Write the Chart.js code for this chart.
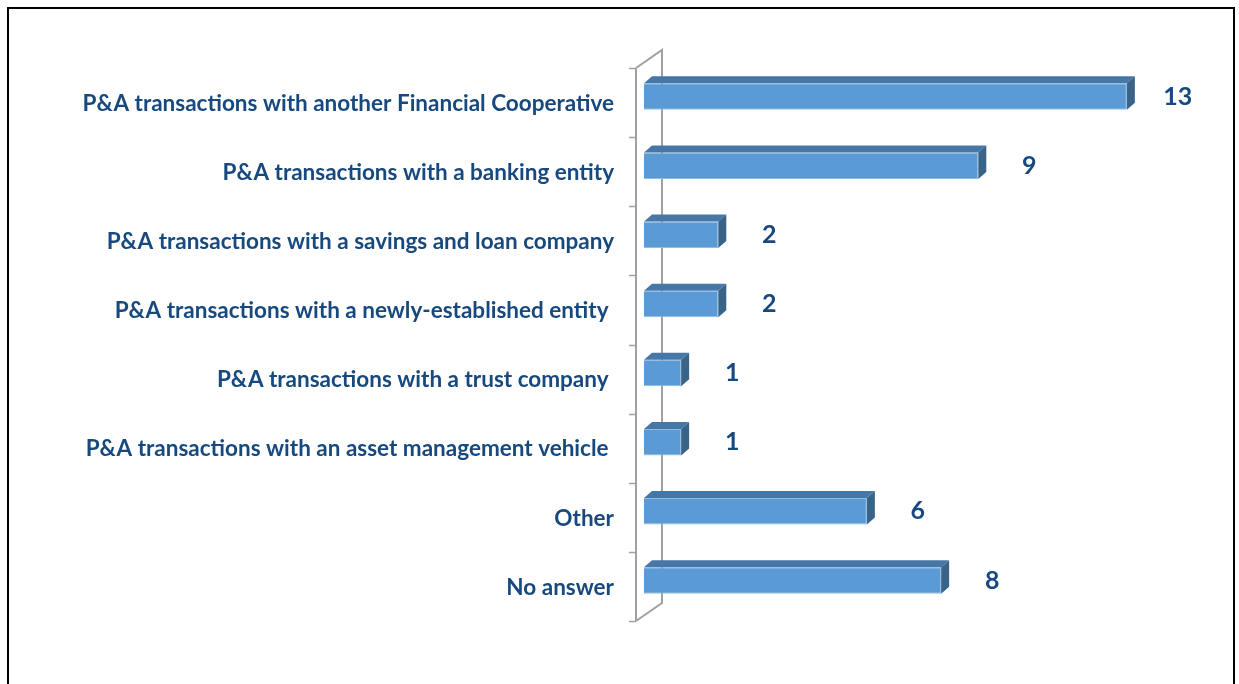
<!DOCTYPE html>
<html>
<head>
<meta charset="utf-8">
<script src="https://cdn.jsdelivr.net/npm/chart.js@4.4.1/dist/chart.umd.min.js"></script>
<style>
  html, body { margin: 0; padding: 0; background: #fff; overflow: hidden; }
  #wrap { position: absolute; left: 0; top: 0; width: 1239px; height: 684px; }
  #frame { position: absolute; left: 7px; top: 7px; width: 1224px; height: 700px; border: 2px solid #000; }
</style>
</head>
<body>
<div id="frame"></div>
<div id="wrap"><canvas id="myChart"></canvas></div>
<script>
const categories = [
  'P&A transactions with another Financial Cooperative',
  'P&A transactions with a banking entity',
  'P&A transactions with a savings and loan company',
  'P&A transactions with a newly-established entity ',
  'P&A transactions with a trust company ',
  'P&A transactions with an asset management vehicle ',
  'Other',
  'No answer',
];
const counts = [13, 9, 2, 2, 1, 1, 6, 8];

const textBlue = '#17497F';
const depthX = 8, depthY = 7;

// back wall + ticks, drawn behind the bars
const wall3d = {
  id: 'wall3d',
  beforeDatasetsDraw(chart) {
    const { ctx, chartArea } = chart;
    const n = categories.length;
    const top = chartArea.top + 6, bottom = chartArea.bottom + 6;
    const band = (bottom - top) / n;
    const fx = chartArea.left - 8, bx = fx + 26, dy = 18;
    ctx.save();
    ctx.strokeStyle = '#a0a0a0';
    ctx.lineWidth = 2;
    ctx.beginPath();
    ctx.moveTo(fx, top); ctx.lineTo(fx, bottom);
    ctx.moveTo(fx, top); ctx.lineTo(bx, top - dy); ctx.lineTo(bx, bottom - dy); ctx.lineTo(fx, bottom);
    ctx.stroke();
    ctx.lineWidth = 1.5;
    ctx.beginPath();
    for (let i = 0; i <= n; i++) {
      const ty = Math.round(top + i * band) + 0.5;
      ctx.moveTo(fx - 7, ty); ctx.lineTo(fx, ty);
    }
    ctx.stroke();
    ctx.restore();
  },
  afterDatasetsDraw(chart) {
    const { ctx } = chart;
    const meta = chart.getDatasetMeta(0);
    ctx.save();
    meta.data.forEach((bar, i) => {
      const left = bar.base, right = bar.x;
      const t = bar.y - bar.height / 2, b = bar.y + bar.height / 2;
      // top face
      ctx.fillStyle = '#4677A6';
      ctx.beginPath();
      ctx.moveTo(left, t); ctx.lineTo(left + depthX, t - depthY);
      ctx.lineTo(right + depthX, t - depthY); ctx.lineTo(right, t);
      ctx.closePath(); ctx.fill();
      // side face
      ctx.fillStyle = '#3A6388';
      ctx.beginPath();
      ctx.moveTo(right, t); ctx.lineTo(right + depthX, t - depthY);
      ctx.lineTo(right + depthX, b - depthY); ctx.lineTo(right, b);
      ctx.closePath(); ctx.fill();
      // value label
      ctx.fillStyle = textBlue;
      ctx.font = 'bold 25px Lato';
      ctx.textAlign = 'center';
      ctx.textBaseline = 'middle';
      ctx.fillText(String(counts[i]), right + 51, bar.y);
    });
    ctx.restore();
  }
};

const ctx = document.getElementById('myChart').getContext('2d');
const myChart = new Chart(ctx, {
  type: 'bar',
  data: {
    labels: categories,
    datasets: [
      {
        data: counts,
        backgroundColor: '#5B9BD5',
        borderColor: '#8DBCE6',
        borderWidth: 1,
        categoryPercentage: 1,
        barPercentage: 0.385,
      },
    ],
  },
  options: {
    indexAxis: 'y',
    responsive: true,
    maintainAspectRatio: false,
    animation: false,
    layout: { padding: { left: 0, top: 62, right: 75, bottom: 69 } },
    plugins: {
      legend: { display: false },
      tooltip: { enabled: false },
    },
    scales: {
      x: { display: false, min: 0, max: 14 },
      y: {
        grid: { display: false },
        border: { display: false },
        afterFit(scale) { scale.width = 644; },
        ticks: {
          autoSkip: false,
          padding: 22,
          labelOffset: 7,
          color: textBlue,
          font: { family: 'Lato', weight: 'bold', size: 22.5 },
        },
      },
    },
  },
  plugins: [wall3d],
});
</script>
</body>
</html>
